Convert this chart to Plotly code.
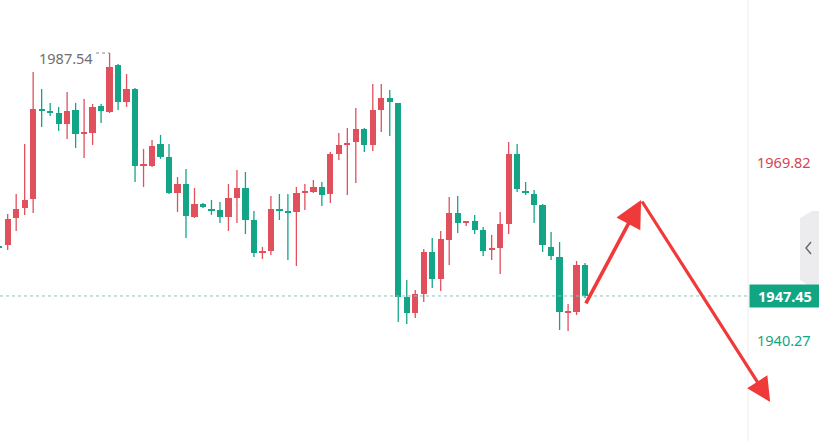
import plotly.graph_objects as go

# OHLC values (index 0 is a partially visible candle at the left edge)
opens = [1955.54, 1955.87, 1960.32, 1961.97, 1963.46, 1978.31, 1977.81, 1977.65, 1975.83, 1978.14,
         1974.18, 1974.35, 1978.80, 1977.81, 1985.57, 1979.46, 1981.61, 1968.90, 1968.90, 1972.53,
         1970.39, 1964.45, 1965.93, 1960.49, 1962.63, 1961.64, 1961.64, 1960.49, 1963.62, 1965.27,
         1959.99, 1954.55, 1954.88, 1961.81, 1961.48, 1961.31, 1964.45, 1964.61, 1965.44, 1964.28,
         1970.88, 1972.37, 1972.86, 1975.01, 1972.37, 1978.14, 1980.12, 1979.30, 1947.29, 1944.65,
         1947.78, 1954.71, 1950.26, 1956.69, 1961.15, 1959.50, 1959.83, 1958.34, 1955.04, 1955.37,
         1959.33, 1970.88, 1964.78, 1964.28, 1962.47, 1955.54, 1953.89, 1944.65, 1944.81, 1952.57]
highs = [1955.87, 1960.98, 1964.28, 1972.53, 1984.41, 1981.61, 1979.30, 1978.64, 1981.11, 1979.30,
         1979.96, 1979.13, 1979.13, 1987.54, 1985.73, 1984.08, 1981.77, 1971.71, 1973.19, 1974.02,
         1972.53, 1967.09, 1968.41, 1965.27, 1962.80, 1963.29, 1962.96, 1965.93, 1968.24, 1967.91,
         1961.48, 1955.54, 1963.95, 1964.28, 1964.28, 1965.44, 1965.93, 1966.59, 1966.26, 1971.21,
         1974.35, 1975.17, 1978.47, 1975.17, 1982.43, 1982.43, 1981.44, 1979.30, 1950.09, 1948.44,
         1955.21, 1957.02, 1958.18, 1963.79, 1963.95, 1959.66, 1960.82, 1958.84, 1957.52, 1961.31,
         1972.86, 1972.53, 1966.26, 1964.94, 1962.63, 1958.01, 1956.36, 1946.13, 1953.23, 1952.90]
lows = [1955.04, 1955.04, 1958.18, 1960.82, 1961.15, 1975.34, 1977.15, 1974.68, 1973.36, 1971.87,
        1970.22, 1972.37, 1976.00, 1977.65, 1978.14, 1978.64, 1966.26, 1965.44, 1968.74, 1970.06,
        1964.28, 1961.31, 1957.02, 1960.32, 1961.97, 1960.82, 1959.50, 1958.18, 1959.50, 1957.68,
        1953.89, 1953.56, 1954.22, 1959.99, 1953.39, 1952.40, 1961.64, 1964.45, 1962.30, 1962.80,
        1969.89, 1964.12, 1966.10, 1971.21, 1971.38, 1974.51, 1973.85, 1943.16, 1942.83, 1943.82,
        1946.46, 1948.77, 1948.28, 1952.57, 1957.85, 1959.00, 1957.68, 1954.05, 1953.39, 1951.08,
        1957.68, 1964.61, 1964.12, 1959.50, 1954.71, 1953.39, 1941.84, 1941.68, 1944.32, 1947.12]
closes = [1955.37, 1960.16, 1961.81, 1963.29, 1978.31, 1977.98, 1977.65, 1975.83, 1977.98, 1974.18,
          1974.35, 1978.64, 1977.98, 1985.24, 1979.46, 1981.61, 1968.90, 1969.07, 1972.20, 1970.39,
          1964.45, 1965.93, 1960.65, 1962.63, 1962.14, 1961.48, 1960.49, 1963.62, 1965.27, 1959.99,
          1954.55, 1954.71, 1961.81, 1961.48, 1961.15, 1964.45, 1964.61, 1965.44, 1964.12, 1970.88,
          1972.37, 1972.70, 1975.01, 1972.37, 1978.14, 1980.12, 1979.46, 1947.29, 1944.65, 1947.78,
          1954.71, 1950.26, 1956.86, 1961.15, 1959.50, 1959.66, 1958.34, 1954.88, 1955.21, 1959.33,
          1970.88, 1965.11, 1964.45, 1962.47, 1955.87, 1954.05, 1944.81, 1944.81, 1952.57, 1947.45]

last_price = 1947.45
label_high = 1969.82
label_low = 1940.27
top_high = 1987.54
top_high_idx = 13

# forecast arrow points (index, price)
arrow_pts = [(69.0, 1945.97), (75.6, 1963.29), (90.8, 1929.96)]

RED = "#e0505d"
GREEN = "#13a586"
ARROW = "#f03a3a"
FONT = "Noto Sans"

Y_MIN, Y_MAX = 1923.52, 1996.29
X_MIN, X_MAX = 0.094, 88.19
W, H = 819, 441
PLOT_W = 748

idx = list(range(len(opens)))

fig = go.Figure()
for color, up in ((RED, True), (GREEN, False)):
    xs, bases, hs = [], [], []
    wx, wy = [], []
    for i, o, h, l, c in zip(idx, opens, highs, lows, closes):
        is_up = c >= o
        if is_up != up:
            continue
        xs.append(i)
        bases.append(min(o, c))
        hs.append(max(abs(c - o), 0.2))
        wx += [i, i, None]
        wy += [l, h, None]
    fig.add_trace(go.Scatter(x=wx, y=wy, mode="lines",
                             line=dict(color=color, width=1.3),
                             hoverinfo="skip", showlegend=False))
    fig.add_trace(go.Bar(x=xs, y=hs, base=bases, width=0.74,
                         marker=dict(color=color, line=dict(width=0)),
                         hoverinfo="skip", showlegend=False))


def px(xp):
    return xp / PLOT_W


def py(yp):
    return (H - yp) / H


shapes = []
# current price dashed line
shapes.append(dict(type="line", xref="paper", yref="y", x0=0, x1=1,
                   y0=last_price, y1=last_price,
                   line=dict(color="#86c7be", width=1, dash="3px,3px")))
# right panel border
shapes.append(dict(type="line", xref="paper", yref="paper", x0=1, x1=1, y0=0, y1=1,
                   line=dict(color="#eeeeee", width=1)))
# collapse tab
tab = (f"M {px(800)},{py(218)} L {px(812)},{py(211)} L {px(820)},{py(211)} "
       f"L {px(820)},{py(288)} L {px(812)},{py(288)} L {px(800)},{py(280)} Z")
shapes.append(dict(type="path", xref="paper", yref="paper", path=tab,
                   fillcolor="#ececef", line=dict(width=0), layer="below"))
chev = f"M {px(811)},{py(242)} L {px(806)},{py(248)} L {px(811)},{py(254)}"
shapes.append(dict(type="path", xref="paper", yref="paper", path=chev,
                   line=dict(color="#666666", width=1.4)))
# dotted marker for the highest high
shapes.append(dict(type="line", xref="x", yref="y",
                   x0=top_high_idx - 1.6, x1=top_high_idx, y0=top_high, y1=top_high,
                   line=dict(color="#8a8a8a", width=1, dash="dot")))

annotations = []
annotations.append(dict(x=top_high_idx - 1.7, y=top_high, xref="x", yref="y",
                        text=f"{top_high:.2f}", showarrow=False, xanchor="right",
                        yanchor="middle", yshift=-5,
                        font=dict(family=FONT, size=14.5, color="#6e6e6e")))
annotations.append(dict(x=1, y=label_high, xref="paper", yref="y",
                        text=f"{label_high:.2f}", showarrow=False, xanchor="left",
                        xshift=7, yshift=-2,
                        font=dict(family=FONT, size=14.5, color="#d9434f")))
annotations.append(dict(x=1, y=label_low, xref="paper", yref="y",
                        text=f"{label_low:.2f}", showarrow=False, xanchor="left",
                        xshift=7, yshift=-1,
                        font=dict(family=FONT, size=14.5, color=GREEN)))
annotations.append(dict(x=1, y=last_price, xref="paper", yref="y",
                        text=f"<b>{last_price:.2f}</b>", showarrow=False, xanchor="left",
                        xshift=1, width=70, height=22, align="center",
                        bgcolor="#12a584", borderpad=0,
                        font=dict(family=FONT, size=14.5, color="white")))
for (tx, ty), (hx, hy), aw in ((arrow_pts[0], arrow_pts[1], 3.6),
                               (arrow_pts[1], arrow_pts[2], 3.2)):
    annotations.append(dict(x=hx, y=hy, ax=tx, ay=ty, xref="x", yref="y",
                            axref="x", ayref="y", text="", showarrow=True,
                            arrowhead=2, arrowsize=1.5, arrowwidth=aw,
                            arrowcolor=ARROW))

fig.update_layout(
    width=W, height=H,
    margin=dict(l=0, r=W - PLOT_W, t=0, b=0),
    paper_bgcolor="white", plot_bgcolor="white",
    barmode="overlay", bargap=0,
    xaxis=dict(range=[X_MIN, X_MAX], visible=False, fixedrange=True),
    yaxis=dict(range=[Y_MIN, Y_MAX], visible=False, fixedrange=True),
    shapes=shapes, annotations=annotations,
    showlegend=False,
)

fig.write_html("out.html", config={"displayModeBar": False},
               post_script="document.body.style.margin='0px';document.body.style.overflow='hidden';")
